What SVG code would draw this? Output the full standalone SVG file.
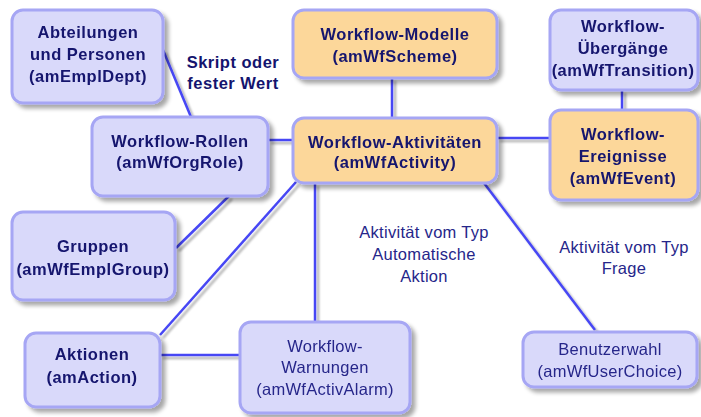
<svg xmlns="http://www.w3.org/2000/svg" width="701" height="417" viewBox="0 0 701 417">
<defs>
<filter id="sh" x="-10%" y="-10%" width="130%" height="130%">
<feGaussianBlur in="SourceAlpha" stdDeviation="2"/>
<feOffset dx="4" dy="4" result="b"/>
<feComponentTransfer><feFuncA type="linear" slope="0.35"/></feComponentTransfer>
<feMerge><feMergeNode/><feMergeNode in="SourceGraphic"/></feMerge>
</filter>
<filter id="lsh" x="-20%" y="-20%" width="140%" height="140%">
<feGaussianBlur in="SourceAlpha" stdDeviation="1.2"/>
<feOffset dx="3" dy="3" result="b"/>
<feComponentTransfer><feFuncA type="linear" slope="0.3"/></feComponentTransfer>
<feMerge><feMergeNode/><feMergeNode in="SourceGraphic"/></feMerge>
</filter>
</defs>
<style>
.bx{fill:#d9d9fa;stroke:#a6a6f4;stroke-width:3}
.or{fill:#fcd79a;stroke:#a6a6f4;stroke-width:3}
.b{font-family:"Liberation Sans",Arial,sans-serif;font-weight:bold;font-size:16.5px;letter-spacing:0.5px;fill:#14146e;text-anchor:middle}
.n{font-family:"Liberation Sans",Arial,sans-serif;font-size:16.5px;letter-spacing:0.3px;fill:#26268a;text-anchor:middle}
.c line{stroke:#4646f4;stroke-width:2.5}
</style>
<rect width="701" height="417" fill="#ffffff"/>
<g class="c" id="connectors" filter="url(#lsh)">
<line x1="163" y1="50" x2="191" y2="117"/>
<line x1="268" y1="140" x2="293" y2="140"/>
<line x1="392" y1="78" x2="392" y2="118"/>
<line x1="622" y1="90" x2="622" y2="110"/>
<line x1="497" y1="138" x2="550" y2="138"/>
<line x1="229" y1="196" x2="176" y2="248"/>
<line x1="296" y1="182" x2="160" y2="335"/>
<line x1="315" y1="183" x2="315" y2="322"/>
<line x1="160" y1="355" x2="240" y2="355"/>
<line x1="484" y1="183" x2="595" y2="330"/>
</g>
<g id="abteilungen" filter="url(#sh)">
<rect class="bx" x="12" y="10" width="151" height="93" rx="11"/>
<text class="b" x="88" y="38">Abteilungen</text>
<text class="b" x="88" y="60">und Personen</text>
<text class="b" x="88" y="82">(amEmplDept)</text>
</g>
<g id="label-skript">
<text class="b" x="233" y="68">Skript oder</text>
<text class="b" x="233" y="89">fester Wert</text>
</g>
<g id="rollen" filter="url(#sh)">
<rect class="bx" x="92" y="117" width="176" height="79" rx="11"/>
<text class="b" x="180" y="147">Workflow-Rollen</text>
<text class="b" x="180" y="168">(amWfOrgRole)</text>
</g>
<g id="modelle" filter="url(#sh)">
<rect class="or" x="293" y="10" width="204" height="68" rx="11"/>
<text class="b" x="395" y="40">Workflow-Modelle</text>
<text class="b" x="395" y="62">(amWfScheme)</text>
</g>
<g id="aktivitaeten" filter="url(#sh)">
<rect class="or" x="293" y="118" width="204" height="65" rx="11"/>
<text class="b" x="395" y="148">Workflow-Aktivitäten</text>
<text class="b" x="395" y="168">(amWfActivity)</text>
</g>
<g id="uebergaenge" filter="url(#sh)">
<rect class="bx" x="550" y="10" width="148" height="80" rx="11"/>
<text class="b" x="623" y="32">Workflow-</text>
<text class="b" x="623" y="54">Übergänge</text>
<text class="b" x="623" y="76">(amWfTransition)</text>
</g>
<g id="ereignisse" filter="url(#sh)">
<rect class="or" x="550" y="110" width="148" height="90" rx="11"/>
<text class="b" x="623" y="140">Workflow-</text>
<text class="b" x="623" y="162">Ereignisse</text>
<text class="b" x="623" y="184">(amWfEvent)</text>
</g>
<g id="gruppen" filter="url(#sh)">
<rect class="bx" x="12" y="212" width="163" height="88" rx="11"/>
<text class="b" x="93" y="252">Gruppen</text>
<text class="b" x="93" y="275">(amWfEmplGroup)</text>
</g>
<g id="aktionen" filter="url(#sh)">
<rect class="bx" x="25" y="333" width="135" height="74" rx="11"/>
<text class="b" x="92" y="360">Aktionen</text>
<text class="b" x="92" y="383">(amAction)</text>
</g>
<g id="warnungen" filter="url(#sh)">
<rect class="bx" x="240" y="322" width="170" height="91" rx="11"/>
<text class="n" x="325" y="352">Workflow-</text>
<text class="n" x="325" y="373">Warnungen</text>
<text class="n" x="325" y="395">(amWfActivAlarm)</text>
</g>
<g id="label-automatisch">
<text class="n" x="424" y="238">Aktivität vom Typ</text>
<text class="n" x="424" y="260">Automatische</text>
<text class="n" x="424" y="282">Aktion</text>
</g>
<g id="label-frage">
<text class="n" x="624" y="253">Aktivität vom Typ</text>
<text class="n" x="624" y="274">Frage</text>
</g>
<g id="benutzerwahl" filter="url(#sh)">
<rect class="bx" x="523" y="332" width="174" height="55" rx="11"/>
<text class="n" x="610" y="355">Benutzerwahl</text>
<text class="n" x="610" y="377">(amWfUserChoice)</text>
</g>
</svg>
